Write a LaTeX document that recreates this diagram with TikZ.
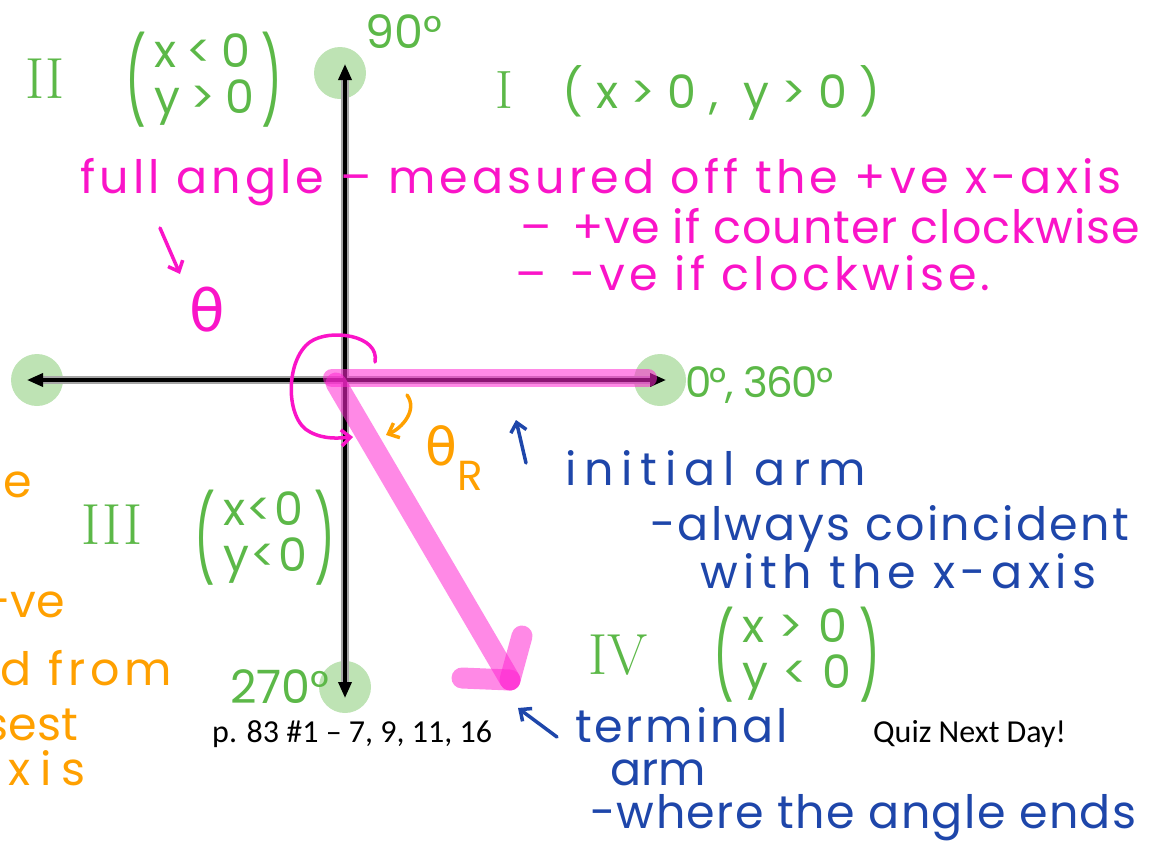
\documentclass[tikz,border=0pt]{standalone}
\usepackage{fontspec}
\newfontfamily\hand{Poppins}
\newfontfamily\printed{Carlito}
\newfontfamily\symf{DejaVu Sans}
\usetikzlibrary{positioning,arrows.meta}
\definecolor{grn}{RGB}{92,184,72}
\definecolor{dotgrn}{RGB}{190,227,180}
\definecolor{mag}{RGB}{250,20,200}
\definecolor{armpink}{RGB}{255,40,210}
\definecolor{org}{RGB}{255,160,0}
\definecolor{blu}{RGB}{30,70,170}
% (x<0 / y>0) with tall parentheses
\newcommand{\cond}[2]{$\vcenter{\hbox{\scalebox{1}[1.85]{(}}}$\,{\renewcommand{\arraystretch}{0.8}\begin{tabular}{@{}l@{}}#1\\#2\end{tabular}}\,$\vcenter{\hbox{\scalebox{1}[1.85]{)}}}$}
\tikzset{
  hw/.style={font={\hand\fontsize{46}{52}\selectfont}, inner sep=0pt},
  ls/.style={font={\hand\fontsize{46}{52}\selectfont\addfontfeature{LetterSpace=#1}}},
  roman/.style={font={\rmfamily\fontsize{58}{60}\selectfont}},
  gtext/.style={hw, text=grn},
  mtext/.style={hw, text=mag},
  otext/.style={hw, text=org},
  btext/.style={hw, text=blu},
  ptext/.style={font={\printed\fontsize{32}{36}\selectfont}, inner sep=0pt},
  dot/.style={circle, fill=dotgrn, minimum size=52pt, inner sep=0pt},
  axis/.style={line width=3.5pt, {Triangle[length=16pt,width=13pt]}-{Triangle[length=16pt,width=13pt]}},
  halo/.style={line width=8pt, black!35, shorten <=12pt, shorten >=12pt},
  arm/.style={armpink, opacity=0.55, line width=21pt, line cap=round},
  hand arrow/.style={line width=3.5pt, line cap=round, -{Straight Barb[length=9pt,width=16pt]}},
}
\begin{document}
\begin{tikzpicture}[x=1pt,y=-1pt]
\useasboundingbox (0,0) rectangle (1151,841);
\clip (0,0) rectangle (1151,841);

% dots at the ends of the axes
\node[dot] (d0) at (660,380) {};
\node[dot] (d90) at (340,73) {};
\node[dot] (d180) at (37,380) {};
\node[dot] (d270) at (345,687) {};

% axes
\coordinate (O) at (345,380);
\coordinate (xr) at (666,380);
\coordinate (xl) at (27,380);
\coordinate (yt) at (345,64);
\coordinate (yb) at (345,698);
\draw[halo] (xl) -- (xr);
\draw[halo] (yb) -- (yt);
\draw[axis] (xl) -- (xr);
\draw[axis] (yb) -- (yt);

% initial and terminal arm
\coordinate (a0) at (332,378);
\coordinate (a1) at (648,378);
\coordinate (t0) at (336,383);
\coordinate (t1) at (510,680);
\coordinate (h1) at (462,678);
\coordinate (h2) at (522,636);
\draw[arm, line width=18pt] (a0) -- (a1);
\draw[arm] (t0) -- (t1);
\draw[arm] (h1) -- (t1);
\draw[arm] (h2) -- (t1);

% angle labels
\node[gtext, anchor=base west] (l90) at (365,48) {90°};
\node[gtext, font={\hand\fontsize{42}{46}\selectfont\addfontfeature{LetterSpace=-4}}, anchor=base west] (l0) at (685,397) {0°, 360°};
\node[gtext, anchor=base west] (l270) at (230,703) {270°};

% quadrants
\node[gtext, ls=27, anchor=base west] (q1) at (495,108) {{\rmfamily\fontsize{54}{58}\selectfont I}\hspace{50pt}(x>0, y>0)};
\node[gtext, roman] (q2) at (45,79) {II};
\node[gtext, ls=22] (q2c) at (204,80) {\cond{x<0}{y>0}};
\node[gtext, roman] (q3) at (112,525) {III};
\node[gtext, ls=4] (q3c) at (265,538) {\cond{x<0}{y<0}};
\node[gtext, roman] (q4) at (618,655) {IV};
\node[gtext, ls=32] (q4c) at (797,655) {\cond{x>0}{y<0}};

% full angle
\node[mtext, ls=9, anchor=base west] (full) at (80,193) {full angle – measured off the +ve x-axis};
\node[mtext, ls=2, anchor=base west] (ccw) at (520,243) {– \,+ve if counter clockwise};
\node[mtext, ls=9, anchor=base west] (cw) at (515,290) {– \,-ve if clockwise.};
\node[mtext, font={\symf\fontsize{58}{60}\selectfont}] (th) at (207,310) {θ};
\coordinate (fa0) at (160,228);
\coordinate (fa1) at (180,274);
\draw[mag, hand arrow] (fa0) -- (fa1);
\coordinate (c0) at (375,362);
\coordinate (c1) at (353,437);
\draw[mag, hand arrow] (c0) .. controls (380,335) and (330,328) .. (310,342)
  .. controls (285,360) and (285,420) .. (310,432) .. controls (325,440) and (340,438) .. (c1);

% reference angle
\node[otext, anchor=base west] (thr) at (425,465) {{\symf\fontsize{52}{56}\selectfont θ}\raisebox{-25pt}{\fontsize{42}{46}\selectfont R}};
\coordinate (o0) at (407,395);
\coordinate (o1) at (386,435);
\draw[org, hand arrow] (o0) .. controls (418,410) and (402,428) .. (o1);
\node[otext, ls=10, anchor=base east] (r1) at (32,497) {angle};
\node[otext, ls=0, anchor=base east] (r2) at (65,617) {+ve};
\node[otext, ls=10, anchor=base east] (r3) at (172,685) {measured from};
\node[otext, ls=0, anchor=base east] (r4) at (78,740) {closest};
\node[otext, ls=22, anchor=base east] (r5) at (86,785) {x-axis};

% arms
\node[btext, ls=17, anchor=base west] (init) at (565,485) {initial arm};
\node[btext, ls=5, anchor=base west] (alw) at (650,540) {-always coincident};
\node[btext, ls=12, anchor=base west] (with) at (700,588) {with the x-axis};
\coordinate (b0) at (526,463);
\coordinate (b1) at (516,420);
\draw[blu, hand arrow] (b0) -- (b1);
\node[btext, ls=6, anchor=base west] (term) at (575,742) {terminal};
\node[btext, anchor=base west] (arm) at (610,785) {arm};
\node[btext, ls=3, anchor=base west] (where) at (590,828) {-where the angle ends};
\coordinate (b2) at (557,737);
\coordinate (b3) at (518,708);
\draw[blu, hand arrow] (b2) -- (b3);

% printed text
\node[ptext, anchor=base west] (hwk) at (212,742) {p. 83 \#1 – 7, 9, 11, 16};
\node[ptext, anchor=base west] (quiz) at (873,742) {Quiz Next Day!};
\end{tikzpicture}
\end{document}
